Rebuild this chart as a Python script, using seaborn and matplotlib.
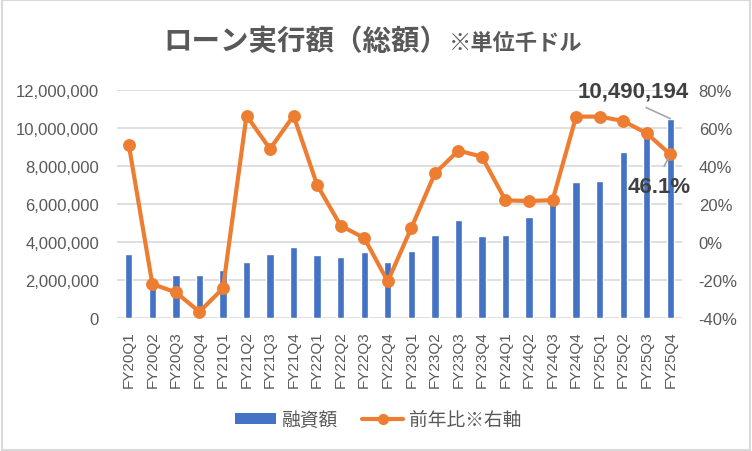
import numpy as np
import pandas as pd
import seaborn as sns
import matplotlib.pyplot as plt
from matplotlib.patches import Patch, Rectangle
from matplotlib.lines import Line2D
from matplotlib.ticker import FuncFormatter, MultipleLocator

# colours (Excel default blue / orange)
bar_color = "#4472C4"
line_color = "#ED7D31"
text_gray = "#595959"
grid_gray = "#D9D9D9"

# data: loan amount (thousand USD) and YoY change (%)
quarters = ["FY20Q1", "FY20Q2", "FY20Q3", "FY20Q4",
            "FY21Q1", "FY21Q2", "FY21Q3", "FY21Q4",
            "FY22Q1", "FY22Q2", "FY22Q3", "FY22Q4",
            "FY23Q1", "FY23Q2", "FY23Q3", "FY23Q4",
            "FY24Q1", "FY24Q2", "FY24Q3", "FY24Q4",
            "FY25Q1", "FY25Q2", "FY25Q3", "FY25Q4"]
loan_amount = [3370000, 2050000, 2260000, 2260000,
               2530000, 2950000, 3370000, 3740000,
               3310000, 3210000, 3470000, 2950000,
               3530000, 4380000, 5160000, 4330000,
               4380000, 5330000, 6100000, 7160000,
               7210000, 8750000, 9650000, 10490194]
yoy_pct = [51.2, -22.1, -26.5, -36.7,
           -24.4, 66.5, 49.0, 66.5,
           30.0, 8.6, 2.1, -20.7,
           7.4, 36.1, 48.1, 44.9,
           21.9, 21.6, 22.0, 66.0,
           66.0, 63.7, 57.2, 46.1]

df = pd.DataFrame({"quarter": quarters, "amount": loan_amount, "yoy": yoy_pct})

sns.set_style("white")
plt.rcParams['font.family'] = ['Liberation Sans', 'Noto Sans CJK JP', 'DejaVu Sans']

fig = plt.figure(figsize=(7.52, 4.52), dpi=100)
ax = fig.add_axes([0.1556, 0.2942, 0.7514, 0.5045])

sns.barplot(data=df, x="quarter", y="amount", ax=ax, color=bar_color,
            saturation=1, width=0.31, zorder=2)
ax.set_ylim(0, 12000000)
ax.yaxis.set_major_locator(MultipleLocator(2000000))
ax.yaxis.set_major_formatter(FuncFormatter(lambda v, p: f"{v:,.0f}"))
ax.yaxis.grid(True, color=grid_gray, linewidth=1.2)
ax.set_axisbelow(True)

ax2 = ax.twinx()
sns.pointplot(data=df, x="quarter", y="yoy", ax=ax2, color=line_color,
              markers="o", markersize=7, linewidth=3.0, errorbar=None)
ax2.set_ylim(-40, 80)
ax2.yaxis.set_major_locator(MultipleLocator(20))
ax2.yaxis.set_major_formatter(FuncFormatter(lambda v, p: f"{v:.0f}%"))
ax.set_xlim(-0.5, len(quarters) - 0.5)

for a in (ax, ax2):
    for s in a.spines.values():
        s.set_visible(False)
    a.set_xlabel("")
    a.set_ylabel("")

ax.tick_params(axis="y", length=0, pad=13, labelsize=12, labelcolor=text_gray)
ax.tick_params(axis="x", length=0, pad=9, labelsize=11, labelcolor=text_gray, rotation=90)
ax2.tick_params(axis="y", length=0, pad=12, labelsize=12, labelcolor=text_gray)

# data labels for the last quarter
last = len(quarters) - 1
ax.annotate(f"{loan_amount[last]:,}", xy=(last, loan_amount[last]),
            xytext=(-27, 20), textcoords="offset points",
            ha="center", va="center", fontsize=16, fontweight="bold", color="#404040",
            arrowprops=dict(arrowstyle="-", color="#A6A6A6", lw=1.2,
                            relpos=(0.5, 0), shrinkA=5, shrinkB=0))
ax2.annotate(f"{yoy_pct[last]:.1f}%", xy=(last, yoy_pct[last]),
             xytext=(-8, -23), textcoords="offset points",
             ha="center", va="center", fontsize=16, fontweight="bold", color="#404040",
             arrowprops=dict(arrowstyle="-", color="#A6A6A6", lw=1.2,
                             relpos=(0.5, 1), shrinkA=5, shrinkB=3))

# title
fig.text(163 / 752, 1 - 42 / 452, "ローン実行額（総額）", ha="left", va="center",
         fontsize=20.5, fontweight="bold", color=text_gray)
fig.text(449 / 752, 1 - 45 / 452, "※単位千ドル", ha="left", va="center",
         fontsize=16, fontweight="bold", color=text_gray)

# legend
handles = [Patch(facecolor=bar_color, edgecolor="none"),
           Line2D([], [], color=line_color, marker="o", markersize=7, linewidth=3.0)]
fig.legend(handles, ["融資額", "前年比※右軸"], loc="center", ncol=2,
           bbox_to_anchor=(378 / 752, 1 - 421 / 452), frameon=False,
           fontsize=13.5, labelcolor=text_gray, handlelength=2.2, handleheight=0.5,
           handletextpad=0.3, columnspacing=1.3)

# chart border
fig.patches.append(Rectangle((0.002, 0.003), 0.996, 0.994, transform=fig.transFigure,
                             fill=False, edgecolor=grid_gray, linewidth=1.5))

fig.savefig("out.png", dpi=100)
